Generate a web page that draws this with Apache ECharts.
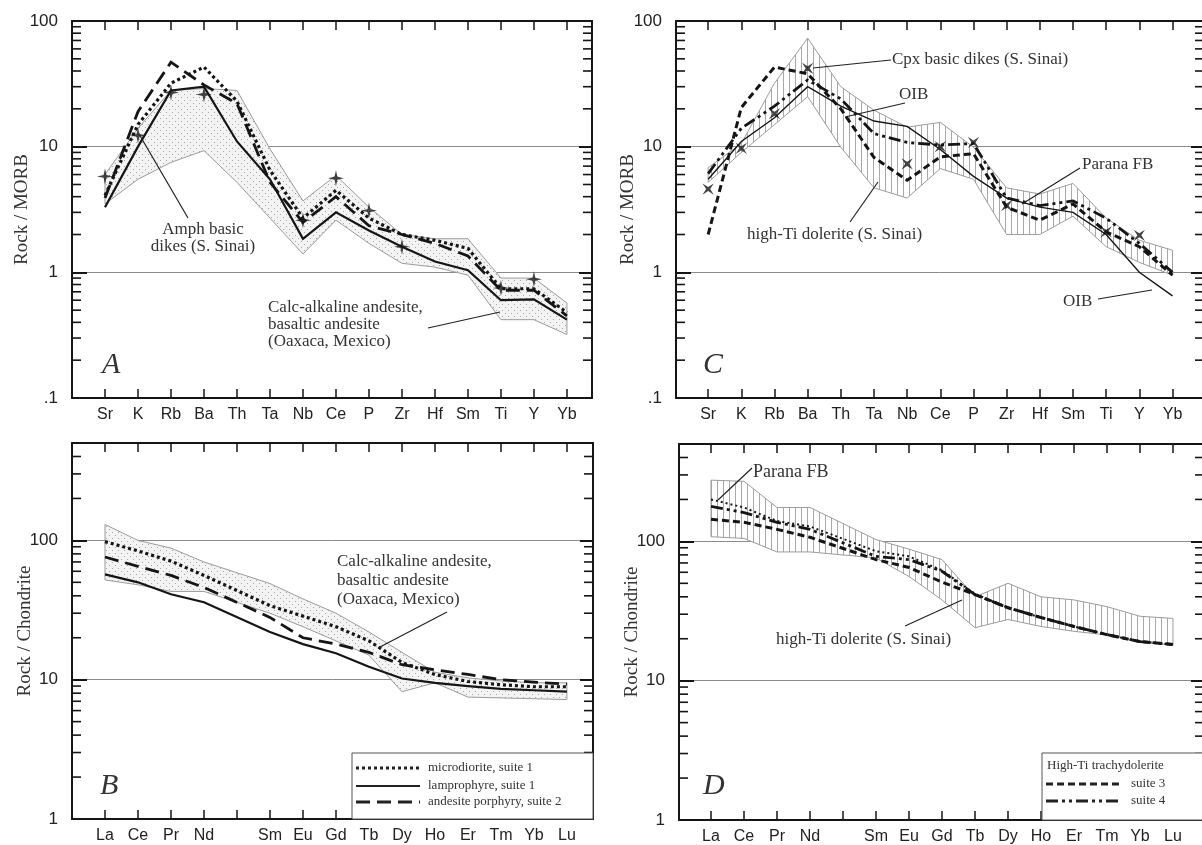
<!DOCTYPE html>
<html>
<head>
<meta charset="utf-8">
<script src="https://cdn.jsdelivr.net/npm/echarts@6/dist/echarts.min.js"></script>
<style>
html, body { margin: 0; padding: 0; background: #fff; }
#main { width: 1202px; height: 845px; }
</style>
</head>
<body>
<div id="main"></div>
<script>
// element order on the spider diagrams
var morbElements = ['Sr', 'K', 'Rb', 'Ba', 'Th', 'Ta', 'Nb', 'Ce', 'P', 'Zr', 'Hf', 'Sm', 'Ti', 'Y', 'Yb'];
var reeElements = ['La', 'Ce', 'Pr', 'Nd', '', 'Sm', 'Eu', 'Gd', 'Tb', 'Dy', 'Ho', 'Er', 'Tm', 'Yb', 'Lu'];
var morbPos = [0, 1, 2, 3, 4, 5, 6, 7, 8, 9, 10, 11, 12, 13, 14];
var reePos = [0, 1, 2, 3, 5, 6, 7, 8, 9, 10, 11, 12, 13, 14]; // Pm slot is empty

// A - Rock / MORB
var aMicrodiorite = [4.1, 15, 32, 43, 23, 6.5, 2.7, 4.5, 2.7, 2.0, 1.8, 1.55, 0.74, 0.74, 0.48];
var aLamprophyre = [3.3, 10, 28, 30, 11, 5.5, 1.85, 3.0, 2.15, 1.6, 1.22, 1.04, 0.6, 0.61, 0.42];
var aAndesite = [3.9, 19, 47, 31, 22, 5.2, 2.5, 4.0, 2.35, 2.0, 1.7, 1.35, 0.72, 0.72, 0.45];
var aAmphDikes = [5.8, 12.3, 27, 26, null, null, 2.6, 5.6, 3.1, 1.6, null, null, 0.75, 0.88, null];
var aFieldUpper = [6.0, 14, 28, 29, 28, 9.6, 3.7, 5.9, 3.3, 2.0, 1.85, 1.85, 0.9, 0.9, 0.57];
var aFieldLower = [3.5, 5.5, 7.5, 9.3, 5.2, 2.7, 1.4, 2.6, 1.7, 1.18, 1.1, 0.95, 0.42, 0.42, 0.32];

// C - Rock / MORB
var cSuite3 = [2.0, 20.5, 43, 38, 20, 8.2, 5.4, 8.3, 8.8, 3.3, 2.6, 3.5, 2.1, 1.6, 0.95];
var cSuite4 = [6.1, 14, 21, 34, 24, 12.7, 10.8, 10.3, 10.6, 3.9, 3.4, 3.7, 2.7, 1.7, 1.0];
var cOIB = [5.5, 11, 17, 30, 21, 16, 14.5, 9.5, 5.8, 3.9, 3.3, 3.0, 2.0, 1.0, 0.65];
var cCpxDikes = [4.6, 9.7, 18.3, 42, null, null, 7.3, 10, 10.8, 3.4, null, null, 2.1, 1.97, null];
var cFieldUpper = [6.8, 10.6, 32, 73, 30, 19.5, 14.3, 15.6, 9.9, 4.7, 4.2, 5.1, 2.7, 1.8, 1.5];
var cFieldLower = [5.2, 9.0, 15, 25, 9.9, 4.7, 3.9, 6.7, 5.5, 2.0, 2.0, 2.8, 1.6, 1.2, 0.95];

// B - Rock / Chondrite
var bMicrodiorite = [98, 84, 71, 56, 34, 28.6, 24, 19, 13.3, 10.9, 9.7, 9.2, 8.9, 8.9];
var bLamprophyre = [57, 50, 41, 36, 22, 18, 15.5, 12.4, 10.2, 9.5, 9.0, 8.6, 8.4, 8.2];
var bAndesite = [76, 65, 56, 46, 28, 20, 18, 15.7, 12.8, 11.8, 10.9, 10, 9.6, 9.3];
var bFieldUpper = [130, 100, 88, 70, 49, 38, 30, 22, 15.7, 11.3, 10.3, 9.8, 9.5, 9.5];
var bFieldLower = [52, 48, 43, 43, 30, 24, 19, 15, 8.2, 9.5, 7.5, 7.4, 7.3, 7.2];

// D - Rock / Chondrite
var dSuite4 = [178, 161, 137, 122, 78, 74, 61, 41.5, 33.4, 28.4, 24.5, 21.4, 19.1, 18.2];
var dSuite3 = [144, 137, 122, 107, 74, 65, 51, 41.5, 33.4, 28.4, 24.5, 21.4, 19.1, 18.2];
var dParana = [200, 175, 140, 128, 85, 78, 62, 42, 33.4, 28.4, 24.5, 21.4, 19.1, 18.2];
var dFieldUpper = [275, 270, 175, 175, 103, 88, 74, 40, 50, 40, 38, 34, 29, 28];
var dFieldLower = [108, 105, 84, 84, 76, 56, 38, 24, 27.5, 24.5, 22.6, 21.3, 19, 18];

var morbMinor = [0.2, 0.3, 0.4, 0.5, 0.6, 0.7, 0.8, 0.9, 2, 3, 4, 5, 6, 7, 8, 9, 20, 30, 40, 50, 60, 70, 80, 90];
var chonMinor = [2, 3, 4, 5, 6, 7, 8, 9, 20, 30, 40, 50, 60, 70, 80, 90, 200, 300, 400];

var INK = '#151515';
var SERIF = '"Liberation Serif", "DejaVu Serif", serif';
var SANS = '"Liberation Sans", Arial, sans-serif';

function makePattern(kind) {
  var c = document.createElement('canvas');
  c.width = 6; c.height = 6;
  var ctx = c.getContext('2d');
  ctx.fillStyle = kind === 'dots' ? '#f3f3f3' : '#ffffff';
  ctx.fillRect(0, 0, 6, 6);
  ctx.fillStyle = '#a8a8a8';
  if (kind === 'dots') {
    ctx.fillRect(1, 1, 1, 1);
    ctx.fillRect(4, 4, 1, 1);
  } else {
    ctx.fillRect(3, 0, 1, 6);
  }
  return { image: c, repetition: 'repeat' };
}
var dots = makePattern('dots');
var hatch = makePattern('hatch');

// panel layout
var panels = [
  { left: 72, top: 21, width: 520, height: 377, xmin: -1, xmax: 14.76, ymin: 0.1, ymax: 100, names: morbElements, name: 'Rock / MORB', gap: 40 },
  { left: 676, top: 21, width: 528, height: 377, xmin: -0.97, xmax: 14.95, ymin: 0.1, ymax: 100, names: morbElements, name: 'Rock / MORB', gap: 38 },
  { left: 72, top: 443, width: 521, height: 376, xmin: -1, xmax: 14.79, ymin: 1, ymax: 500, names: reeElements, name: 'Rock / Chondrite', gap: 37 },
  { left: 679, top: 444, width: 525, height: 376, xmin: -0.97, xmax: 14.94, ymin: 1, ymax: 500, names: reeElements, name: 'Rock / Chondrite', gap: 37 }
];

var grids = [], xAxes = [], yAxes = [];
panels.forEach(function (p, g) {
  grids.push({ left: p.left, top: p.top, width: p.width, height: p.height, containLabel: false, outerBoundsMode: 'none' });
  var ticks = [];
  for (var i = 0; i < 15; i++) ticks.push(i);
  var labelTicks = ticks.filter(function (i) { return p.names[i] !== ''; });
  var decades = p.ymin < 1 ? [0.1, 1, 10, 100] : [1, 10, 100];
  xAxes.push({
    type: 'value', gridIndex: g, position: 'bottom', min: p.xmin, max: p.xmax,
    axisLine: { show: true, onZero: false, lineStyle: { color: INK, width: 2 } },
    axisTick: { show: true, inside: true, length: 9, customValues: ticks, lineStyle: { color: INK, width: 1.5 } },
    axisLabel: {
      customValues: labelTicks, margin: 9, color: '#222', fontFamily: SANS, fontSize: 16,
      formatter: function (v) { return p.names[Math.round(v)]; }
    },
    splitLine: { show: false }
  });
  xAxes.push({
    type: 'value', gridIndex: g, position: 'top', min: p.xmin, max: p.xmax,
    axisLine: { show: true, onZero: false, lineStyle: { color: INK, width: 2 } },
    axisTick: { show: true, inside: true, length: 9, customValues: ticks, lineStyle: { color: INK, width: 1.5 } },
    axisLabel: { show: false },
    splitLine: { show: false }
  });
  yAxes.push({
    type: 'log', logBase: 10, gridIndex: g, position: 'left', min: p.ymin, max: p.ymax,
    name: p.name, nameLocation: 'middle', nameGap: p.gap, nameMoveOverlap: false,
    nameTextStyle: { fontFamily: SERIF, fontSize: 19, color: '#333' },
    axisLine: { show: true, onZero: false, lineStyle: { color: INK, width: 2 } },
    axisTick: { show: true, inside: true, length: 15, customValues: decades, lineStyle: { color: INK, width: 2 } },
    axisLabel: {
      customValues: decades, margin: 14, color: '#222', fontFamily: SANS, fontSize: 17,
      formatter: function (v) { return v < 1 ? '.1' : String(Math.round(v)); }
    },
    splitLine: { show: true, lineStyle: { color: '#8a8a8a', width: 1 } }
  });
  yAxes.push({
    type: 'log', logBase: 10, gridIndex: g, position: 'right', min: p.ymin, max: p.ymax,
    axisLine: { show: true, onZero: false, lineStyle: { color: INK, width: 2 } },
    axisTick: { show: true, inside: true, length: 13, customValues: decades, lineStyle: { color: INK, width: 2 } },
    axisLabel: { show: false },
    splitLine: { show: false }
  });
});

function pairs(xs, vals) {
  return xs.map(function (x, i) { return [x, vals[i]]; }).filter(function (d) { return d[1] != null; });
}

function fieldSeries(g, xs, upper, lower, fill) {
  return {
    type: 'custom', xAxisIndex: g * 2, yAxisIndex: g * 2, silent: true, z: 1,
    data: [[0, upper[0]]],
    renderItem: function (params, api) {
      var pts = [];
      for (var i = 0; i < xs.length; i++) pts.push(api.coord([xs[i], upper[i]]));
      for (var j = xs.length - 1; j >= 0; j--) pts.push(api.coord([xs[j], lower[j]]));
      return { type: 'polygon', shape: { points: pts }, style: { fill: fill, stroke: '#9c9c9c', lineWidth: 1 } };
    }
  };
}

function minorTicks(g, values) {
  return {
    type: 'custom', xAxisIndex: g * 2, yAxisIndex: g * 2, silent: true, z: 6,
    data: values.map(function (v) { return [0, v]; }),
    renderItem: function (params, api) {
      var y = api.coord([0, api.value(1)])[1];
      var cs = params.coordSys;
      return {
        type: 'group', children: [
          { type: 'line', shape: { x1: cs.x, y1: y, x2: cs.x + 9, y2: y }, style: { stroke: INK, lineWidth: 1.6 } },
          { type: 'line', shape: { x1: cs.x + cs.width, y1: y, x2: cs.x + cs.width - 9, y2: y }, style: { stroke: INK, lineWidth: 1.6 } }
        ]
      };
    }
  };
}

function lineSeries(g, name, xs, vals, width, dash) {
  return {
    type: 'line', name: name, xAxisIndex: g * 2, yAxisIndex: g * 2, z: 3,
    data: pairs(xs, vals), symbol: 'none', silent: true,
    lineStyle: { color: INK, width: width, type: dash || 'solid', cap: 'butt', join: 'miter' }
  };
}

var starPath = 'path://M0,-10 L1.8,-1.8 L10,0 L1.8,1.8 L0,10 L-1.8,1.8 L-10,0 L-1.8,-1.8 Z';
function markerSeries(g, name, xs, vals, rotate) {
  return {
    type: 'scatter', name: name, xAxisIndex: g * 2, yAxisIndex: g * 2, z: 4, silent: true,
    data: pairs(xs, vals), symbol: starPath, symbolSize: 16, symbolRotate: rotate,
    itemStyle: { color: INK }
  };
}

var DOTTED = [3, 3];
var DASHED = [14, 7];
var SHORTDASH = [7, 4];
var DASHDOTDOT = [12, 4, 3, 4, 3, 4];

var series = [
  // A
  fieldSeries(0, morbPos, aFieldUpper, aFieldLower, dots),
  lineSeries(0, 'microdiorite, suite 1', morbPos, aMicrodiorite, 3.2, DOTTED),
  lineSeries(0, 'lamprophyre, suite 1', morbPos, aLamprophyre, 2.2),
  lineSeries(0, 'andesite porphyry, suite 2', morbPos, aAndesite, 2.8, DASHED),
  markerSeries(0, 'Amph basic dikes (S. Sinai)', morbPos, aAmphDikes, 0),
  minorTicks(0, morbMinor),
  // C
  fieldSeries(1, morbPos, cFieldUpper, cFieldLower, hatch),
  lineSeries(1, 'OIB', morbPos, cOIB, 1.4),
  lineSeries(1, 'suite 3', morbPos, cSuite3, 3, SHORTDASH),
  lineSeries(1, 'suite 4', morbPos, cSuite4, 2.8, DASHDOTDOT),
  markerSeries(1, 'Cpx basic dikes (S. Sinai)', morbPos, cCpxDikes, 45),
  minorTicks(1, morbMinor),
  // B
  fieldSeries(2, reePos, bFieldUpper, bFieldLower, dots),
  lineSeries(2, 'microdiorite, suite 1', reePos, bMicrodiorite, 3.2, DOTTED),
  lineSeries(2, 'lamprophyre, suite 1', reePos, bLamprophyre, 2.2),
  lineSeries(2, 'andesite porphyry, suite 2', reePos, bAndesite, 2.8, DASHED),
  minorTicks(2, chonMinor),
  // D
  fieldSeries(3, reePos, dFieldUpper, dFieldLower, hatch),
  lineSeries(3, 'Parana FB', reePos, dParana, 2, [2, 3]),
  lineSeries(3, 'suite 3', reePos, dSuite3, 3, SHORTDASH),
  lineSeries(3, 'suite 4', reePos, dSuite4, 2.8, DASHDOTDOT),
  minorTicks(3, chonMinor)
];

function txt(x, y, s, size, opts) {
  opts = opts || {};
  return {
    type: 'text', x: x, y: y, z: 10, silent: true,
    style: {
      text: s, fill: opts.color || '#333', font: (opts.italic ? 'italic ' : '') + size + 'px ' + SERIF,
      textAlign: opts.align || 'left', textVerticalAlign: 'middle', lineHeight: opts.lh || size
    }
  };
}
function seg(x1, y1, x2, y2, w, dash) {
  return {
    type: 'line', z: 10, silent: true, shape: { x1: x1, y1: y1, x2: x2, y2: y2 },
    style: { stroke: '#222', lineWidth: w || 1.2, lineDash: dash || null }
  };
}

var graphics = [
  // panel letters
  txt(102, 365, 'A', 30, { italic: true }),
  txt(100, 786, 'B', 30, { italic: true }),
  txt(703, 365, 'C', 30, { italic: true }),
  txt(703, 786, 'D', 30, { italic: true }),
  // A annotations
  txt(203, 238, 'Amph basic\ndikes (S. Sinai)', 17, { align: 'center', lh: 17 }),
  seg(188, 218, 139, 134),
  txt(268, 325, 'Calc-alkaline andesite,\nbasaltic andesite\n(Oaxaca, Mexico)', 17, { lh: 17 }),
  seg(428, 328, 500, 312),
  // C annotations
  seg(891, 60, 813, 68),
  txt(892, 60, 'Cpx basic dikes (S. Sinai)', 17),
  txt(899, 95, 'OIB', 17),
  seg(905, 103, 845, 117),
  txt(1082, 165, 'Parana FB', 17),
  seg(1080, 168, 1022, 204),
  txt(747, 235, 'high-Ti dolerite (S. Sinai)', 17),
  seg(850, 222, 878, 182),
  txt(1063, 302, 'OIB', 17),
  seg(1098, 299, 1152, 290),
  // B annotations
  txt(337, 581, 'Calc-alkaline andesite,\nbasaltic andesite\n(Oaxaca, Mexico)', 17, { lh: 19 }),
  seg(447, 612, 378, 648),
  // D annotations
  txt(753, 472, 'Parana FB', 18),
  seg(752, 468, 718, 500),
  txt(776, 640, 'high-Ti dolerite (S. Sinai)', 17),
  seg(905, 626, 962, 600),
  // B legend
  { type: 'rect', z: 9, silent: true, shape: { x: 352, y: 753, width: 241, height: 66 }, style: { fill: '#fff', stroke: '#555', lineWidth: 1 } },
  seg(356, 768, 420, 768, 3, DOTTED),
  seg(356, 786, 420, 786, 2),
  seg(356, 802, 420, 802, 2.8, DASHED),
  txt(428, 768, 'microdiorite, suite 1', 13),
  txt(428, 786, 'lamprophyre, suite 1', 13),
  txt(428, 802, 'andesite porphyry, suite 2', 13),
  // D legend
  { type: 'rect', z: 9, silent: true, shape: { x: 1042, y: 753, width: 162, height: 67 }, style: { fill: '#fff', stroke: '#555', lineWidth: 1 } },
  txt(1047, 766, 'High-Ti trachydolerite', 13),
  seg(1046, 784, 1120, 784, 3, SHORTDASH),
  seg(1046, 801, 1120, 801, 2.8, DASHDOTDOT),
  txt(1131, 784, 'suite 3', 13),
  txt(1131, 801, 'suite 4', 13)
];

var chart = echarts.init(document.getElementById('main'), null, { renderer: 'canvas' });
chart.setOption({
  animation: false,
  backgroundColor: '#fff',
  grid: grids,
  xAxis: xAxes,
  yAxis: yAxes,
  series: series,
  graphic: graphics
});
</script>
</body>
</html>
